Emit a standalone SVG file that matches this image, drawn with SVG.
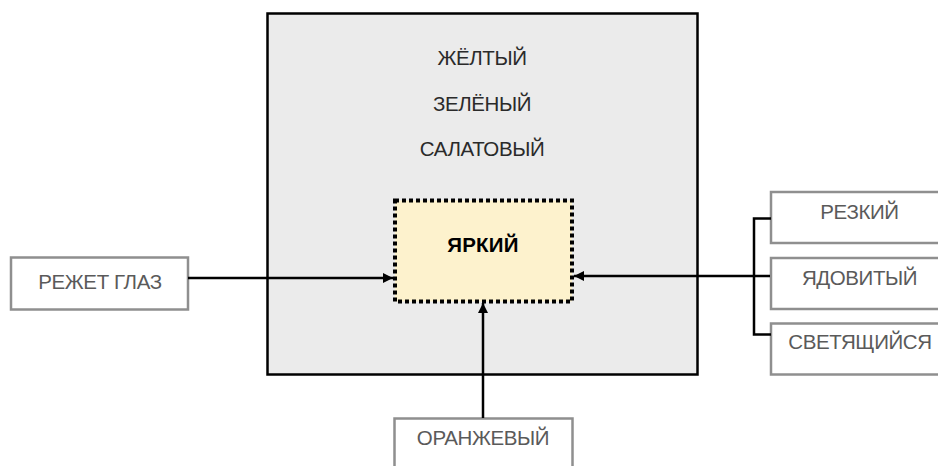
<svg xmlns="http://www.w3.org/2000/svg" width="938" height="466" viewBox="0 0 938 466">
<defs>
<marker id="ah" viewBox="0 0 10 10" refX="10" refY="5" markerWidth="10" markerHeight="10" markerUnits="userSpaceOnUse" orient="auto">
<path d="M0,0 L10,5 L0,10 z" fill="#000"/>
</marker>
</defs>
<style>
.t{font-family:"Liberation Sans",Arial,sans-serif;font-size:20.5px;text-anchor:middle;letter-spacing:-0.4px}
.dk{fill:#2a2a2a}
.gr{fill:#5a5a5a}
.box{fill:#fff;stroke:#8f8f8f;stroke-width:2.5}
.c{fill:none;stroke:#000;stroke-width:2.5}
</style>
<rect width="938" height="466" fill="#fff"/>
<g id="outer">
<rect x="267.5" y="13.5" width="430" height="361" fill="#ebebeb" stroke="#000" stroke-width="2.5"/>
<text class="t dk" x="482" y="64.5">ЖЁЛТЫЙ</text>
<text class="t dk" x="482" y="110.5">ЗЕЛЁНЫЙ</text>
<text class="t dk" x="482" y="155.5">САЛАТОВЫЙ</text>
</g>
<g id="bright">
<rect x="395" y="200.5" width="177" height="101" fill="#fdf2cd" stroke="#000" stroke-width="4" stroke-dasharray="4,3"/>
<text class="t" x="483" y="251.5" font-weight="bold" fill="#000" style="font-size:20.5px;letter-spacing:0.2px">ЯРКИЙ</text>
</g>
<g id="rezhet">
<rect class="box" x="11" y="257.5" width="177" height="52"/>
<text class="t gr" x="100" y="288.5">РЕЖЕТ ГЛАЗ</text>
</g>
<g id="rezkiy">
<rect class="box" x="771" y="192" width="180" height="51"/>
<text class="t gr" x="859.5" y="218.5">РЕЗКИЙ</text>
</g>
<g id="yadovity">
<rect class="box" x="771" y="258" width="180" height="51"/>
<text class="t gr" x="859.5" y="284.5">ЯДОВИТЫЙ</text>
</g>
<g id="svetyashiysya">
<rect class="box" x="771" y="323.5" width="180" height="51"/>
<text class="t gr" x="860" y="348.5">СВЕТЯЩИЙСЯ</text>
</g>
<g id="oranzhevy">
<rect class="box" x="394.5" y="418.5" width="178" height="60"/>
<text class="t gr" x="483" y="445">ОРАНЖЕВЫЙ</text>
</g>
<g id="connectors">
<line class="c" x1="188" y1="278" x2="393" y2="278" marker-end="url(#ah)"/>
<line class="c" x1="483" y1="418" x2="483" y2="303" marker-end="url(#ah)"/>
<line class="c" x1="770" y1="276" x2="574" y2="276" marker-end="url(#ah)"/>
<polyline class="c" points="771,218.5 754,218.5 754,334.5 771,334.5"/>
</g>
</svg>
